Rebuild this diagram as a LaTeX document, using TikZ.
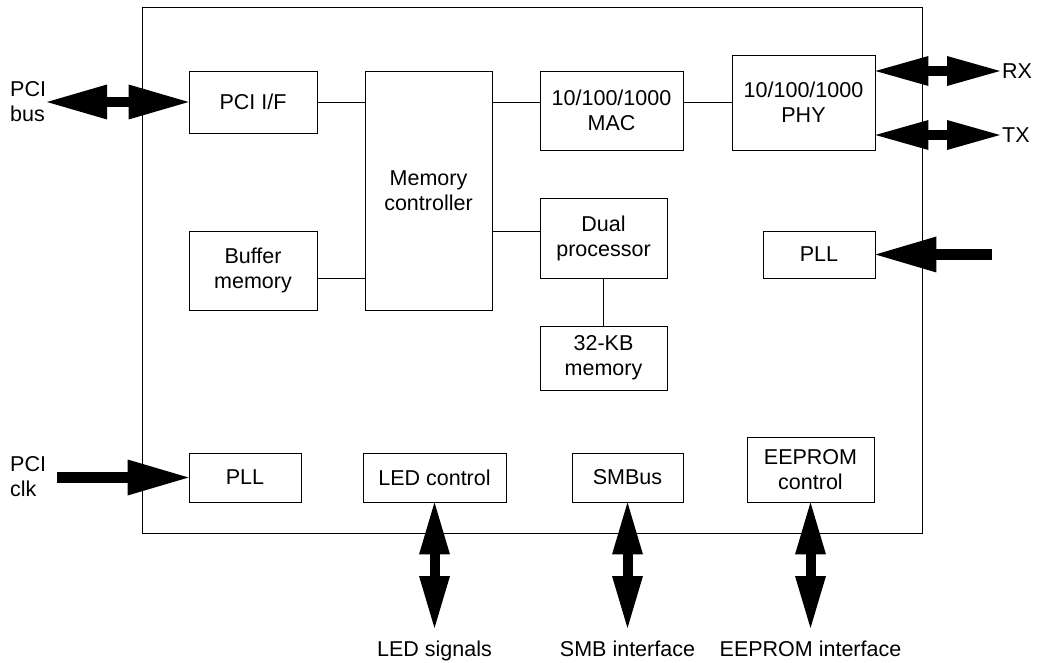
\documentclass[tikz,border=0pt]{standalone}
\usepackage{fontspec}
\setmainfont{Liberation Sans}
\usetikzlibrary{arrows.meta}
\begin{document}
\begin{tikzpicture}[x=1pt,y=-1pt,
  box/.style={draw, line width=0.9pt, inner sep=0pt, align=center, font=\fontsize{21.5}{25}\selectfont},
  lbl/.style={inner sep=0pt, font=\fontsize{21.5}{25}\selectfont},
  conn/.style={line width=0.9pt},
  frame/.style={line width=0.9pt},
  dblA/.style={line width=10pt, {Triangle[length=60pt,width=35pt,line width=0pt]}-{Triangle[length=60pt,width=35pt,line width=0pt]}},
  dblB/.style={line width=10pt, {Triangle[length=53pt,width=30pt,line width=0pt]}-{Triangle[length=53pt,width=30pt,line width=0pt]}},
  dblC/.style={line width=10pt, {Triangle[length=52pt,width=31pt,line width=0pt]}-{Triangle[length=52pt,width=31pt,line width=0pt]}},
  sglA/.style={line width=11pt, -{Triangle[length=61pt,width=36pt,line width=0pt]}}
]
\useasboundingbox (0,0) rectangle (1037,663);
% outer frame
\draw[frame] (142,7) rectangle (922,533);
% blocks
\node[box, minimum width=128pt, minimum height=62pt] (pcif) at (253,102) {PCI I/F};
\node[box, minimum width=127pt, minimum height=239pt] (mc) at (428.5,190.5) {Memory\\controller};
\node[box, minimum width=143pt, minimum height=79pt] (mac) at (611.5,110.5) {10/100/1000\\MAC};
\node[box, minimum width=143pt, minimum height=95pt] (phy) at (803.5,102.5) {10/100/1000\\PHY};
\node[box, minimum width=128pt, minimum height=79pt] (buf) at (253,270.5) {Buffer\\memory};
\node[box, minimum width=127pt, minimum height=80pt] (dual) at (603.5,238) {Dual\\processor};
\node[box, minimum width=127pt, minimum height=64pt] (kb) at (603.5,358) {32-KB\\memory};
\node[box, minimum width=112pt, minimum height=47pt] (pllr) at (819,254.5) {PLL};
\node[box, minimum width=112pt, minimum height=49pt] (plll) at (245,477.5) {PLL};
\node[box, minimum width=143pt, minimum height=49pt] (led) at (434.5,477.5) {LED control};
\node[box, minimum width=111pt, minimum height=49pt] (smb) at (627.5,477.5) {SMBus};
\node[box, minimum width=127pt, minimum height=65pt] (eep) at (810.5,469.5) {EEPROM\\control};
% thin connectors
\draw[conn] (pcif.east) -- (pcif.east -| mc.west);
\draw[conn] (mc.east |- pcif.east) -- (mac.west |- pcif.east);
\draw[conn] (mac.east |- pcif.east) -- (phy.west |- pcif.east);
\draw[conn] ([yshift=-7.5pt]buf.east) -- ([yshift=-7.5pt]buf.east -| mc.west);
\draw[conn] ([yshift=7pt]dual.west) -- ([yshift=7pt]dual.west -| mc.east);
\draw[conn] (dual.south) -- (kb.north);
% big arrows
\coordinate (pcibus) at (47,102);
\draw[dblA] (pcibus) -- (pcif.west);
\coordinate (rxend) at (1000,71);
\coordinate (txend) at (1000,135);
\draw[dblB] (phy.east |- rxend) -- (rxend);
\draw[dblB] (phy.east |- txend) -- (txend);
\coordinate (pllin) at (992,254.5);
\draw[sglA] (pllin) -- (pllr.east);
\coordinate (pciclk) at (57,477.5);
\draw[sglA] (pciclk) -- (plll.west);
\coordinate (bot) at (0,628);
\coordinate (ledsig) at (led.south |- bot);
\coordinate (smbsig) at (smb.south |- bot);
\coordinate (eepsig) at (eep.south |- bot);
\draw[dblC] (led.south) -- (ledsig);
\draw[dblC] (smb.south) -- (smbsig);
\draw[dblC] (eep.south) -- (eepsig);
% labels
\node[lbl, anchor=west, align=left] (lbus) at (10,102) {PCI\\bus};
\node[lbl, anchor=west, align=left] (lclk) at (10,477) {PCI\\clk};
\node[lbl, anchor=west] (lrx) at (1002,71) {RX};
\node[lbl, anchor=west] (ltx) at (1002,135) {TX};
\coordinate (labbase) at (0,656);
\node[lbl, anchor=base] (lled) at (ledsig |- labbase) {LED signals};
\node[lbl, anchor=base] (lsmb) at (smbsig |- labbase) {SMB interface};
\node[lbl, anchor=base] (leep) at (eepsig |- labbase) {EEPROM interface};
\end{tikzpicture}
\end{document}
